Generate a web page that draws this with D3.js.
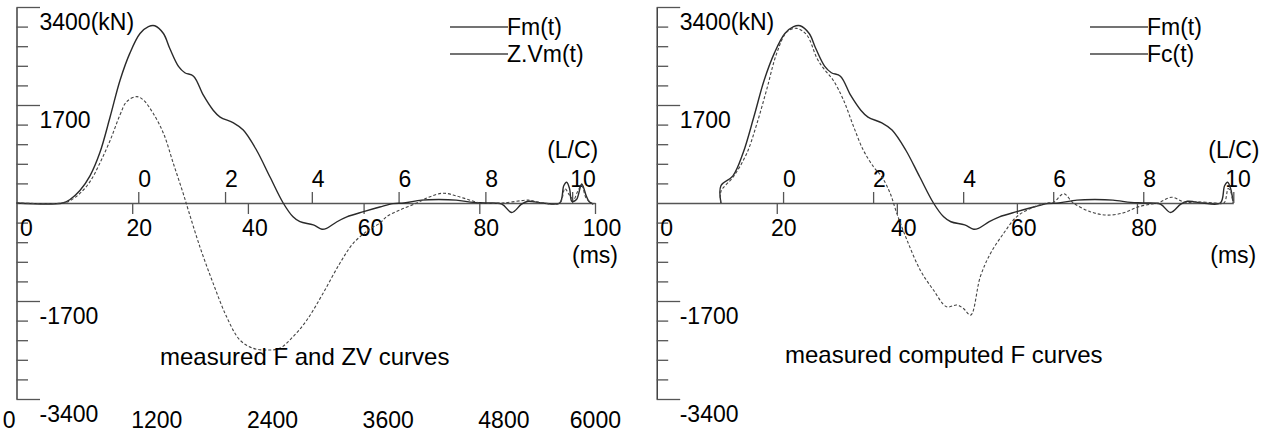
<!DOCTYPE html>
<html><head><meta charset="utf-8">
<script src="https://cdn.jsdelivr.net/npm/d3@7"></script>
<style>
html,body{margin:0;padding:0;background:#fff;}
svg{display:block;font-family:"Liberation Sans",Arial,sans-serif;}
</style></head><body>
<svg id="c" width="1270" height="439"></svg>
<script>
// ---------------- data ----------------
const yMajorTicks = [3400, 1700, -1700, -3400];
const yMajorLabels = ["3400(kN)", "1700", "-1700", "-3400"];
const yMinorTicks = [3060, 2720, 2380, 2040, 1360, 1020, 680, 340, -340, -680, -1020, -1360, -2040, -2380, -2720, -3060];
const msTicksLeft = [20, 40, 60, 80, 100];
const msTicksRight = [20, 40, 60, 80];
const lcTicks = [0, 2, 4, 6, 8, 10];
const bottomTicks = [0, 1200, 2400, 3600, 4800, 6000];

// measured force Fm(t): time (ms) / force (kN)
const fmT = [0, 8.0, 9.25, 11.0, 12.7, 14.4, 16.2, 17.9, 19.6, 21.35, 22.8, 23.9, 25.4, 26.5, 28.0, 29.1, 30.6, 32.3, 34.0, 35.2, 37.5, 39.2, 41.5, 43.8, 46.1, 47.8, 49.0, 51.3, 52.8, 53.6, 55.4, 57.1, 60.0, 62.8, 65.1, 67, 70, 73, 76, 79, 81, 83.9, 85.6, 87.3, 88.4, 89.6, 91, 93.9, 94.6, 95.1, 95.6, 96.0, 96.8, 97.7, 98.5, 99, 99.7];
const fmV = [0, 0, 60, 220, 470, 870, 1500, 2130, 2600, 2940, 3060, 3075, 2940, 2680, 2370, 2260, 2200, 1870, 1610, 1490, 1390, 1265, 915, 455, 0, -240, -325, -380, -455, -440, -325, -240, -150, -70, -10, 0, 50, 60, 50, 10, 0, -20, -165, -20, 30, 20, 0, 0, 300, 360, 250, 30, 60, 330, 120, 20, -20];
// Z.Vm(t)
const zvT = [0, 8.0, 9.25, 11.0, 12.7, 14.4, 16.2, 17.9, 19.05, 20.8, 21.9, 23.6, 25.4, 27.1, 28.8, 29.7, 31.7, 34.0, 36.3, 38.6, 40.9, 43.2, 45.5, 47.8, 50.2, 53.0, 55.9, 58.2, 61.1, 62.8, 64.0, 66.3, 69.2, 71.5, 73.8, 76.1, 79.0, 80, 84, 88.5, 89.5, 91, 93.9, 94.8, 95.5, 96.3, 97.0, 97.7, 98.5, 99.7];
const zvV = [0, 0, 40, 170, 370, 690, 1090, 1530, 1760, 1845, 1790, 1560, 1210, 690, 170, -125, -760, -1395, -1970, -2375, -2520, -2550, -2520, -2320, -2030, -1565, -1045, -700, -450, -350, -235, -120, 0, 110, 170, 120, 30, 0, 0, 50, 30, 0, 0, 250, 150, 60, 200, 300, 80, -20];
// right panel: Fm window starts at 10.7 ms with this value
const fmRightStartT = 10.7, fmRightStartV = 300;
// computed force Fc(t)
const fcT = [10.7, 10.7, 12.8, 15.0, 16.7, 18.3, 20.0, 21.7, 23.3, 25.0, 26.7, 27.8, 29.4, 31.1, 32.8, 34.4, 36.1, 37.5, 38.9, 40.0, 41.7, 43.9, 46.1, 48.3, 50.0, 51.1, 52.3, 53.9, 55.6, 57.8, 60.0, 62.8, 65.0, 66.1, 67.8, 69.4, 72.2, 75.0, 77.8, 80.0, 82.2, 83.5, 85.8, 88.0, 90, 93, 94.5, 95.2, 95.6, 96.0];
const fcV = [0, 200, 460, 860, 1380, 1960, 2600, 2970, 3030, 2915, 2510, 2335, 2130, 1790, 1325, 920, 630, 455, 165, -180, -645, -1165, -1510, -1800, -1770, -1830, -1945, -1280, -875, -525, -235, -70, 0, 10, 160, 0, -150, -210, -170, -75, -20, 0, 100, 10, 20, 0, 0, 250, 200, 0];

const lcZeroMs = 21.05, lcMsPerUnit = 7.5;

// ---------------- drawing ----------------
const svg = d3.select("#c");
const AX = "#555", TXT = "#000", FS = 23;

const zip = (t, v) => t.map((d, i) => ({t: d, v: v[i]}));

const panels = [
  { x0: 16.5, x1: 595, msMax: 100, msTicks: msTicksLeft, lcLastShift: -2,
    legend: ["Fm(t)", "Z.Vm(t)"], legendX: 450,
    title: "measured F and ZV curves", titleX: 160, titleY: 365, bottom: true,
    series: [
      {d: zip(fmT, fmV), dash: null},
      {d: zip(zvT, zvV), dash: "3,2"}
    ]},
  { x0: 656.7, x1: 1233.3, msMax: 96.05, msTicks: msTicksRight, lcLastShift: -8,
    legend: ["Fm(t)", "Fc(t)"], legendX: 1090,
    title: "measured computed F curves", titleX: 785, titleY: 363, bottom: false,
    series: [
      {d: [{t: fmRightStartT, v: 0}, {t: fmRightStartT, v: fmRightStartV}]
            .concat(zip(fmT, fmV).filter(p => p.t >= 12 && p.t <= 96.05)), dash: null},
      {d: zip(fcT, fcV), dash: "3,2"}
    ]}
];

const y = d3.scaleLinear().domain([-3400, 3400]).range([399, 7]);

panels.forEach(P => {
  const g = svg.append("g");
  const x = d3.scaleLinear().domain([0, P.msMax]).range([P.x0, P.x1]);
  const lc = d3.scaleLinear().domain([0, 10]).range([x(lcZeroMs), x(lcZeroMs + 10 * lcMsPerUnit)]);

  // y axis: minor + major ticks
  const ya = g.append("g").attr("transform", `translate(${P.x0},0)`)
    .call(d3.axisRight(y).tickValues(yMinorTicks).tickSize(11.5).tickSizeOuter(0).tickFormat(""));
  const yb = g.append("g").attr("transform", `translate(${P.x0},0)`)
    .call(d3.axisRight(y).tickValues(yMajorTicks).tickSize(23.5).tickSizeOuter(0).tickFormat(""));
  yb.select(".domain").remove();
  [ya, yb].forEach(s => {
    s.select(".domain").attr("stroke", "#222").attr("stroke-width", 1.3);
    s.selectAll(".tick line").attr("stroke", AX).attr("stroke-width", 1.3);
  });
  g.selectAll("text.yl").data(yMajorTicks).join("text")
    .attr("x", P.x0 + 23).attr("y", d => y(d) + 22.5)
    .attr("font-size", FS).attr("fill", TXT)
    .text((d, i) => yMajorLabels[i]);

  // x axis (ms) on zero line
  const xa = g.append("g").attr("transform", `translate(0,${y(0)})`)
    .call(d3.axisBottom(x).tickValues(P.msTicks).tickSize(11).tickSizeOuter(0).tickFormat(""));
  xa.select(".domain").attr("stroke", AX).attr("stroke-width", 1.4);
  xa.selectAll(".tick line").attr("stroke", AX).attr("stroke-width", 1.3);
  g.append("text").attr("x", P.x0 + 3.5).attr("y", 236).attr("font-size", FS).attr("fill", TXT).text("0");
  g.selectAll("text.ms").data(P.msTicks).join("text")
    .attr("x", d => x(d) + 7).attr("y", 236).attr("text-anchor", "middle")
    .attr("font-size", FS).attr("fill", TXT).text(d => d);
  g.append("text").attr("x", P.x1 - 23).attr("y", 263).attr("font-size", FS).attr("fill", TXT).text("(ms)");

  // L/C axis above zero line
  const la = g.append("g").attr("transform", `translate(0,${y(0)})`)
    .call(d3.axisTop(lc).tickValues(lcTicks).tickSize(11).tickSizeOuter(0).tickFormat(""));
  la.select(".domain").remove();
  la.selectAll(".tick line").attr("stroke", AX).attr("stroke-width", 1.3);
  g.selectAll("text.lc").data(lcTicks).join("text")
    .attr("x", (d, i) => lc(d) + (i === lcTicks.length - 1 ? P.lcLastShift : 0)).attr("y", 187)
    .attr("font-size", FS).attr("fill", TXT).text(d => d);
  g.append("text").attr("x", lc(10) - 25).attr("y", 158).attr("font-size", FS).attr("fill", TXT).text("(L/C)");

  // bottom scale
  if (P.bottom) {
    const b = d3.scaleLinear().domain([0, 6000]).range([P.x0, P.x1]);
    g.selectAll("text.bt").data(bottomTicks).join("text")
      .attr("x", (d, i) => i === 0 ? b(d) - 1 : (i === bottomTicks.length - 1 ? b(d) + 26 : b(d) - 1))
      .attr("text-anchor", (d, i) => (i === 0 || i === bottomTicks.length - 1) ? "end" : "start")
      .attr("y", 428).attr("font-size", FS).attr("fill", TXT).text(d => d);
  }

  // curves
  const line = d3.line().x(p => x(p.t)).y(p => y(p.v)).curve(d3.curveCatmullRom.alpha(0.5));
  P.series.forEach(s => {
    g.append("path").datum(s.d).attr("d", line)
      .attr("fill", "none").attr("stroke", s.dash ? "#444" : "#2a2a2a")
      .attr("stroke-width", s.dash ? 1.1 : 1.4)
      .attr("stroke-dasharray", s.dash);
  });

  // legend
  P.legend.forEach((name, i) => {
    const ly = 27 + i * 27;
    g.append("line").attr("x1", P.legendX).attr("x2", P.legendX + 58)
      .attr("y1", ly).attr("y2", ly).attr("stroke", "#444").attr("stroke-width", 1.3);
    g.append("text").attr("x", P.legendX + 57).attr("y", ly + 7.5)
      .attr("font-size", FS).attr("fill", TXT).text(name);
  });

  // title
  g.append("text").attr("x", P.titleX).attr("y", P.titleY).attr("font-size", 24)
    .attr("fill", TXT).text(P.title);
});
</script>
</body></html>
